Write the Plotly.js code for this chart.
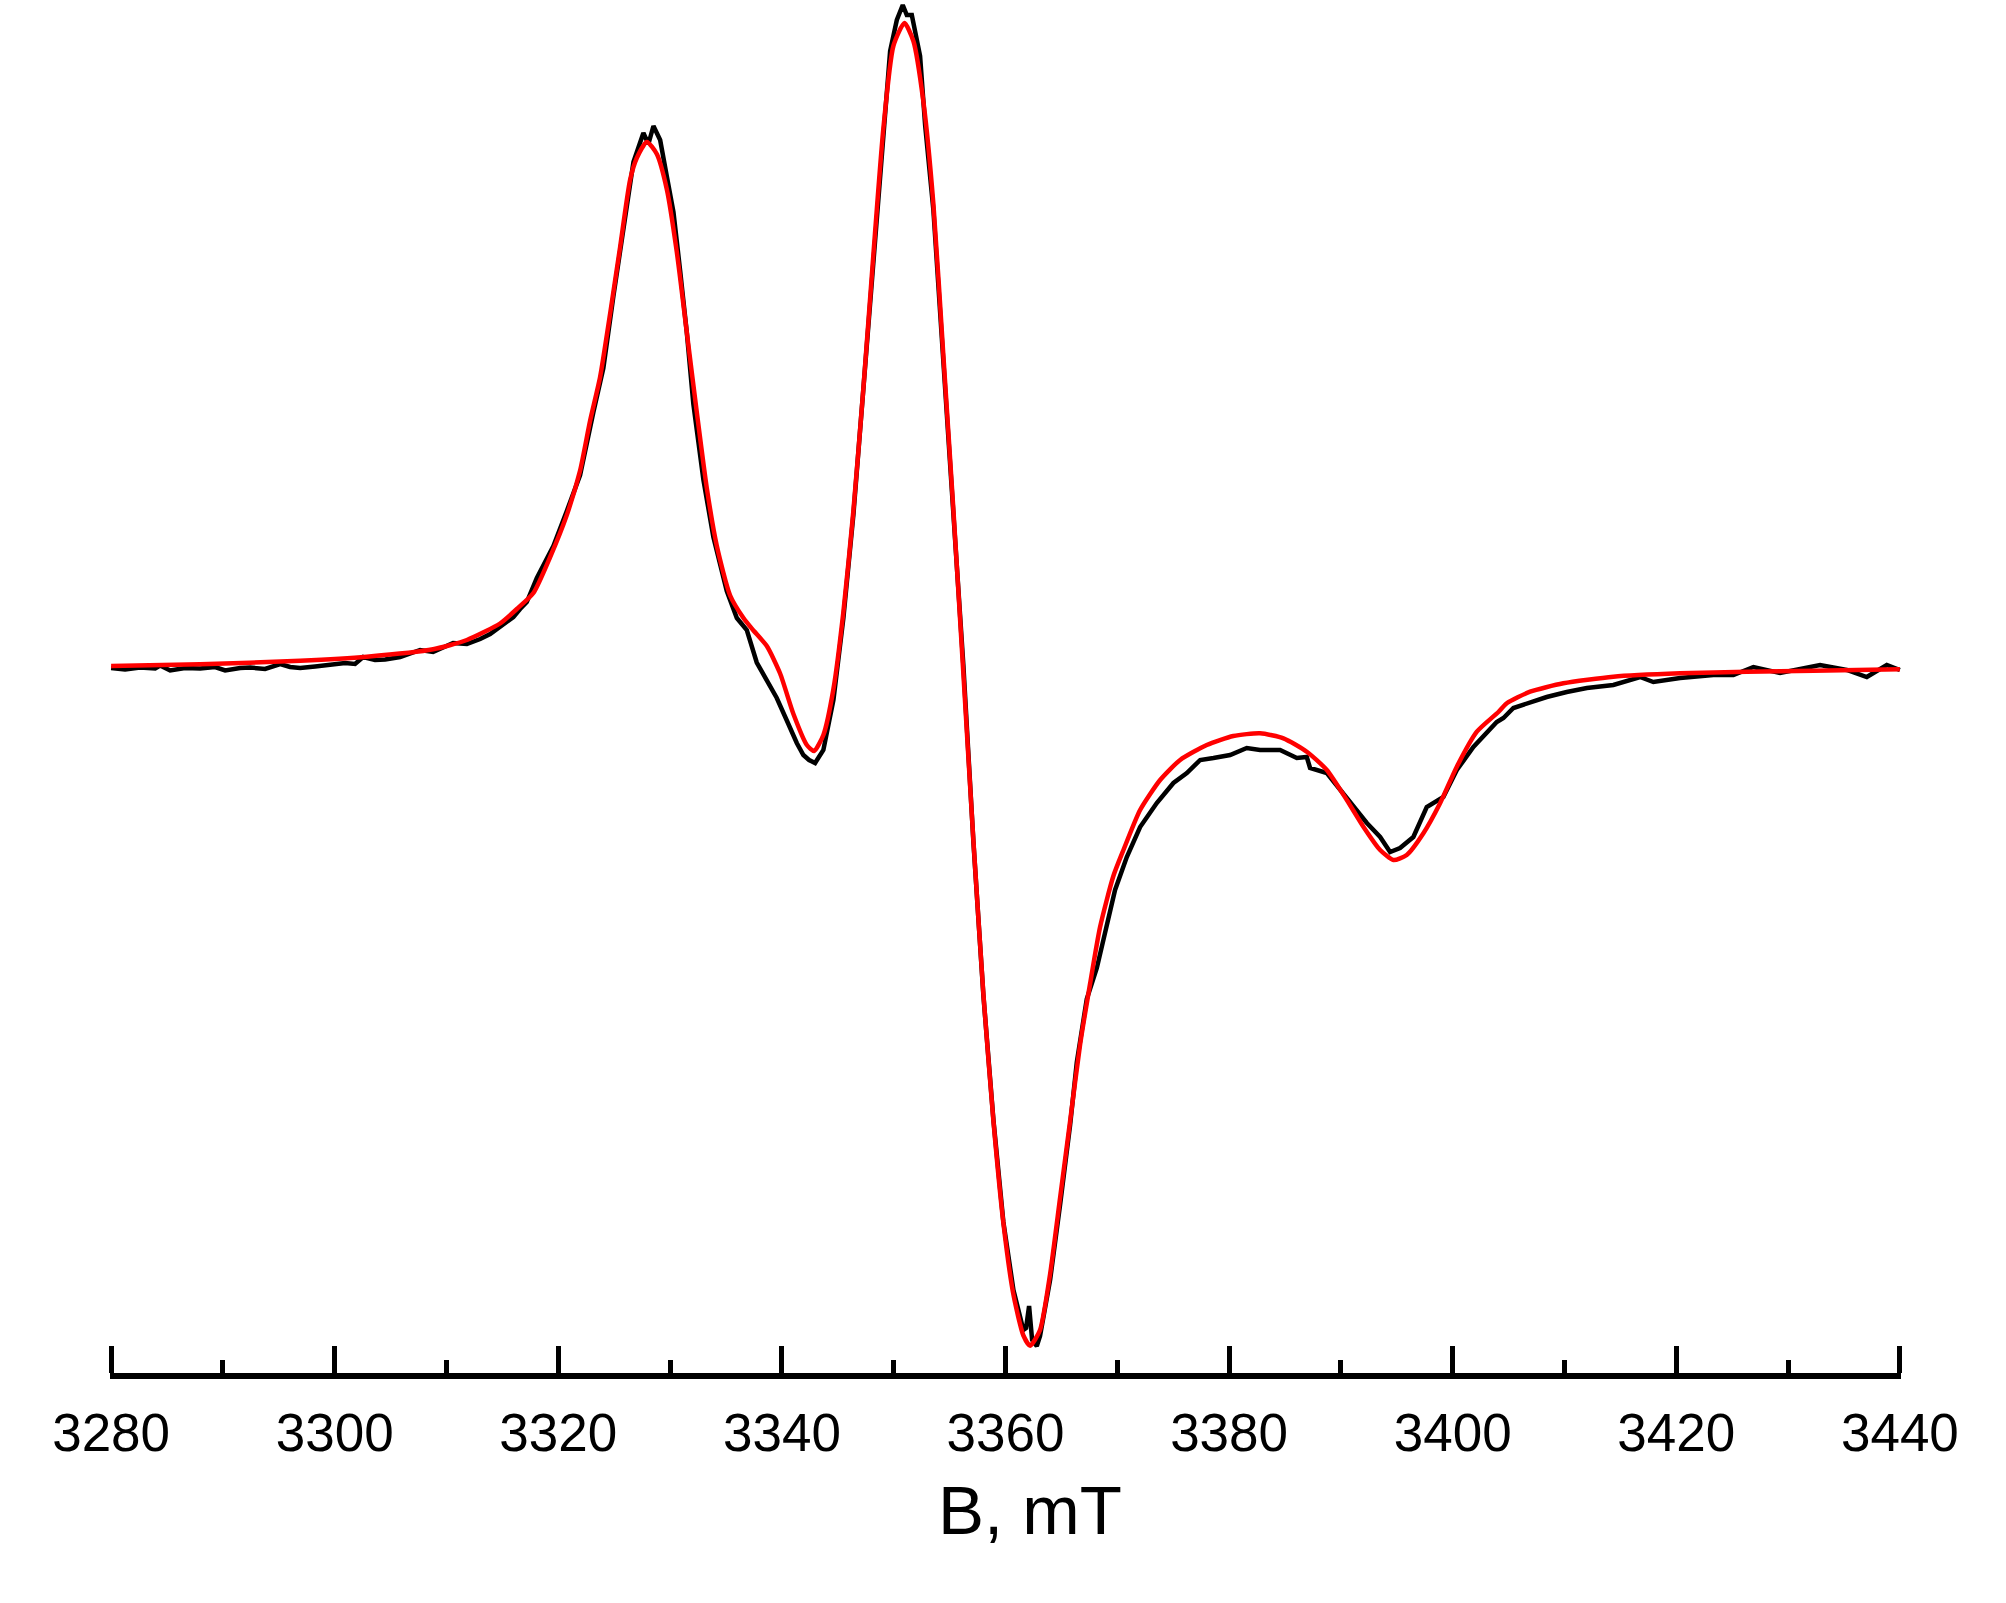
<!DOCTYPE html>
<html>
<head>
<meta charset="utf-8">
<script src="https://cdn.plot.ly/plotly-3.0.1.min.js"></script>
<style>
  html, body { margin: 0; padding: 0; background: #fff; }
  #epr { width: 2006px; height: 1603px; }
</style>
</head>
<body>
<div id="epr"></div>
<script>
// experimental spectrum (black), field in mT, intensity in a.u.
var expB = [3280.00, 3281.25, 3282.59, 3283.94, 3284.38, 3285.28, 3286.62, 3287.96, 3289.30, 3290.20,
  3291.54, 3292.43, 3293.77, 3295.12, 3296.01, 3296.91, 3298.25, 3299.86, 3300.93, 3301.82,
  3302.54, 3303.61, 3304.51, 3305.85, 3306.74, 3307.64, 3308.80, 3309.87, 3310.59, 3311.82,
  3313.01, 3313.90, 3314.79, 3315.98, 3316.58, 3317.18, 3318.08, 3319.56, 3320.76, 3321.95,
  3323.14, 3324.03, 3324.93, 3326.13, 3326.72, 3327.61, 3328.06, 3328.51, 3329.11, 3329.70,
  3330.30, 3330.89, 3331.49, 3332.08, 3332.98, 3333.87, 3335.07, 3335.97, 3336.86, 3337.75,
  3338.65, 3339.54, 3340.44, 3341.33, 3341.92, 3342.43, 3342.97, 3343.71, 3344.61, 3345.50,
  3346.40, 3347.29, 3348.18, 3349.08, 3349.68, 3350.28, 3350.81, 3351.17, 3351.62, 3352.36,
  3352.81, 3353.55, 3354.45, 3355.34, 3356.23, 3357.13, 3358.02, 3358.92, 3359.81, 3360.71,
  3361.60, 3361.84, 3362.11, 3362.38, 3362.80, 3363.09, 3363.99, 3364.88, 3365.78, 3366.38,
  3367.27, 3368.17, 3369.06, 3369.80, 3370.85, 3372.04, 3373.53, 3375.02, 3376.22, 3377.41,
  3378.60, 3380.09, 3381.58, 3382.77, 3384.56, 3386.06, 3386.95, 3387.24, 3388.74, 3389.93,
  3391.12, 3392.32, 3393.51, 3394.40, 3395.29, 3396.48, 3397.68, 3399.17, 3400.37, 3401.85,
  3403.94, 3404.54, 3405.43, 3406.92, 3408.41, 3410.20, 3412.00, 3414.37, 3416.76, 3417.95,
  3420.34, 3423.32, 3425.11, 3426.90, 3429.28, 3432.86, 3435.25, 3437.04, 3438.83, 3440.00];
var expI = [0, -1.5, 0.5, -0.5, 2.5, -2.5, 0, -0.5, 1, -2.5,
  0, 0.5, -1, 4, 1, 0, 1.5, 3, 5, 4,
  11, 8, 8.5, 11, 14, 18, 16, 21, 25, 24,
  29, 34, 41, 51, 59, 66, 90, 122, 157, 193,
  256, 300, 372, 465, 506, 535, 524, 542, 528, 492,
  456, 398, 336, 264, 188, 131, 77, 50, 38, 5.5,
  -12, -30, -52.5, -75, -87, -92, -95, -82, -32, 50,
  154, 278, 410, 540, 617, 648, 663, 653, 653, 612,
  543, 458, 308, 156, 3, -174, -327, -452, -554, -622,
  -662, -660, -638, -672, -678, -668, -612, -537, -457, -394,
  -331, -300, -259, -222, -189, -159, -135, -115, -105, -92,
  -90, -87, -80, -82, -82, -90, -89, -100, -105, -122,
  -139, -155, -169, -184, -180, -169, -139, -129, -102, -79,
  -54, -50, -40, -34, -29, -24, -20, -17, -9, -14,
  -10, -7, -7, 1, -5, 3, -2, -9, 3, -2];

// simulated spectrum (red)
var simB = [3280.00, 3287.96, 3296.91, 3302.87, 3308.80, 3311.82, 3314.79, 3316.29, 3317.77, 3319.27,
  3320.76, 3321.95, 3322.84, 3323.74, 3324.63, 3325.53, 3326.42, 3327.02, 3327.92, 3328.81,
  3329.70, 3330.60, 3331.49, 3332.39, 3333.28, 3334.18, 3335.37, 3336.56, 3337.42, 3338.65,
  3339.84, 3341.03, 3342.23, 3342.88, 3343.71, 3344.61, 3345.50, 3346.40, 3347.29, 3348.18,
  3349.08, 3349.97, 3350.96, 3351.76, 3352.66, 3353.55, 3354.45, 3355.34, 3356.23, 3357.13,
  3358.02, 3358.92, 3359.81, 3360.71, 3361.60, 3362.20, 3363.09, 3363.99, 3364.88, 3365.78,
  3366.67, 3367.57, 3368.46, 3369.65, 3370.55, 3372.04, 3373.83, 3375.62, 3378.00, 3380.38,
  3382.77, 3384.86, 3386.95, 3388.74, 3390.53, 3392.01, 3393.51, 3394.70, 3395.89, 3397.38,
  3398.87, 3400.37, 3402.16, 3404.09, 3404.84, 3406.92, 3409.90, 3414.37, 3420.34, 3426.31,
  3432.26, 3440.00];
var simI = [2, 3.7, 7.3, 11.3, 18.7, 28, 44.5, 59, 75, 111,
  153, 197.5, 247, 291, 354, 421, 488, 510, 526, 514,
  479, 416, 336, 255.5, 180, 122, 72.5, 50, 38, 22,
  -5.5, -46, -77, -83, -67, -21, 56, 158, 280, 413,
  540, 622, 645, 627, 566, 464, 311, 158, -5, -172.6,
  -325.7, -453, -555, -626.7, -667.5, -677.7, -662, -606, -530, -453,
  -376.7, -315.5, -259, -208, -182, -142, -112, -92, -77, -68,
  -65.3, -70.3, -83.7, -102, -132, -158.7, -182, -192, -187, -165.3,
  -135.3, -98.7, -63.7, -44, -35.3, -23.7, -15.3, -8.7, -5.3, -3.7,
  -2.7, -1.3];

var fieldTicks = [3280, 3300, 3320, 3340, 3360, 3380, 3400, 3420, 3440];

var data = [
  {
    x: expB, y: expI,
    name: 'experiment',
    type: 'scatter', mode: 'lines',
    line: {color: '#000000', width: 4.5}
  },
  {
    x: simB, y: simI,
    name: 'simulation',
    type: 'scatter', mode: 'lines',
    line: {color: '#ff0000', width: 4.5, shape: 'spline', smoothing: 0.6}
  }
];

var layout = {
  width: 2006,
  height: 1603,
  margin: {l: 110, r: 105, t: 0, b: 230},
  paper_bgcolor: '#ffffff',
  plot_bgcolor: '#ffffff',
  showlegend: false,
  font: {family: '"Liberation Sans", Arial, sans-serif', color: '#000000'},
  xaxis: {
    range: [3279.9, 3440.1],
    tickvals: fieldTicks,
    ticktext: fieldTicks.map(String),
    ticks: 'inside',
    ticklen: 27,
    tickwidth: 5,
    tickcolor: '#000000',
    showline: true,
    linecolor: '#000000',
    linewidth: 6,
    showgrid: false,
    zeroline: false,
    tickfont: {size: 53, color: '#000000'},
    ticklabelstandoff: 8,
    minor: {dtick: 10, tick0: 3280, ticks: 'inside', ticklen: 13, tickwidth: 5, tickcolor: '#000000', showgrid: false}
  },
  yaxis: {
    range: [-705, 668],
    visible: false,
    showgrid: false,
    zeroline: false
  },
  annotations: [{
    text: 'B, mT',
    xref: 'paper', yref: 'paper',
    x: 0.5136, y: 0,
    xanchor: 'center', yanchor: 'middle',
    yshift: -137,
    showarrow: false,
    font: {size: 69, color: '#000000'}
  }]
};

Plotly.newPlot('epr', data, layout, {displayModeBar: false, staticPlot: true});
</script>
</body>
</html>
